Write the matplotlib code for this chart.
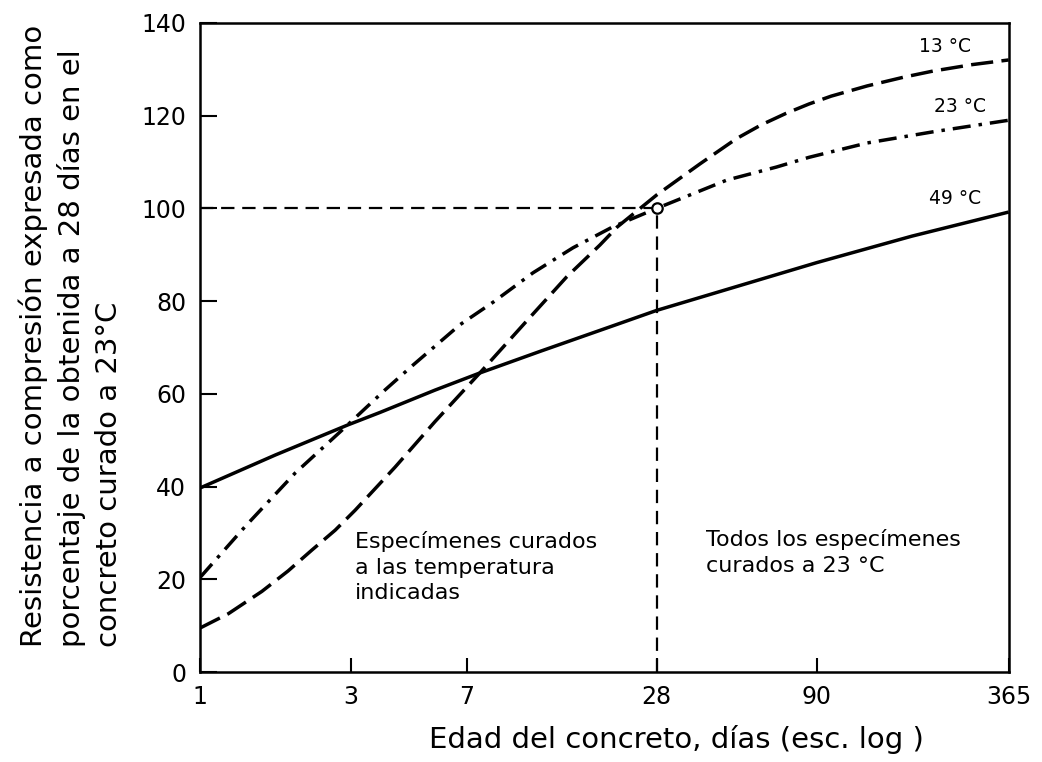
import matplotlib
matplotlib.use("Agg")
import matplotlib.pyplot as plt

# ---- data ----
x_ticks = [1, 3, 7, 28, 90, 365]
y_ticks = [0, 20, 40, 60, 80, 100, 120, 140]

x_13 = [1, 1.23, 1.57, 1.9, 2.26, 2.68, 3.1, 4.15, 5.55, 7.7, 10.9, 14.5, 18.5, 21,
        28, 38.4, 50, 60, 72, 85, 100, 130, 170, 210, 280, 365]
y_13 = [9.5, 12.6, 17.4, 21.8, 26.3, 30.6, 34.9, 44.2, 54.0, 64.5, 75.9, 85.2, 92.1, 96,
        102.9, 109.6, 115.0, 118.0, 120.5, 122.5, 124.2, 126.4, 128.3, 129.6, 131, 132]

x_23 = [1, 1.39, 2.0, 2.82, 3.85, 4.73, 6.66, 8.5, 11.35, 15.2, 20.3, 28, 46.7, 67, 85, 130, 210, 365]
y_23 = [20.4, 31.4, 42.9, 52.2, 60.8, 66.2, 74.9, 79.8, 86.1, 91.5, 96, 100, 106.1, 108.9, 111, 114.1, 116.5, 119]

x_49 = [1, 1.73, 2.94, 3.72, 5.55, 7.7, 12, 21.4, 28, 90, 180, 365]
y_49 = [39.7, 46.8, 53.3, 56.0, 60.8, 64.5, 69.2, 75.2, 78, 88.3, 94, 99.2]

ref_x = 28
ref_y = 100

labels_temp = ["13 °C", "23 °C", "49 °C"]
labels_pos = [(229, 134.8), (255, 121.9), (246, 102.2)]

# ---- figure ----
fig = plt.figure(figsize=(10.42, 7.62), dpi=100)
ax = fig.add_axes([0.192, 0.118, 0.776, 0.852])

lw = 2.5
ax.plot(x_13, y_13, color="black", lw=lw, dashes=(6.4, 2.4))
ax.plot(x_23, y_23, color="black", lw=lw, dashes=(5.2, 2.3, 1.0, 2.3))
ax.plot(x_49, y_49, color="black", lw=lw, solid_capstyle="butt")

# reference lines to the 28-day point
ax.plot([1, ref_x], [ref_y, ref_y], color="black", lw=1.6, dashes=(6, 3.5))
ax.plot([ref_x, ref_x], [0, ref_y], color="black", lw=1.6, dashes=(6, 3.5))
ax.plot([ref_x], [ref_y], marker="o", ms=7.5, mfc="white", mec="black", mew=1.6, zorder=5)

ax.set_xscale("log")
ax.set_xlim(1, 365)
ax.set_ylim(0, 140)
ax.set_xticks(x_ticks)
ax.set_xticklabels([str(t) for t in x_ticks])
ax.minorticks_off()
ax.set_yticks(y_ticks)
ax.tick_params(axis="both", direction="in", width=1.5, labelsize=17)
ax.tick_params(axis="y", length=12, pad=10)
ax.tick_params(axis="x", length=10, pad=9)
for s in ax.spines.values():
    s.set_linewidth(1.8)

for txt, (tx, ty) in zip(labels_temp, labels_pos):
    ax.text(tx, ty, txt, fontsize=13.5, ha="center", va="center")

ax.text(3.1, 30.4, "Especímenes curados\na las temperatura\nindicadas",
        fontsize=16, ha="left", va="top", linespacing=1.35)
ax.text(40.1, 30.8, "Todos los especímenes\ncurados a 23 °C",
        fontsize=16, ha="left", va="top", linespacing=1.35)

fig.text(676 / 1042, 1 - 740 / 762, "Edad del concreto, días (esc. log )",
         fontsize=21, ha="center", va="center")
fig.text(71 / 1042, 1 - 336 / 762,
         "Resistencia a compresión expresada como\nporcentaje de la obtenida a 28 días en el\nconcreto curado a 23°C",
         fontsize=21, rotation=90, ha="center", va="center",
         multialignment="left", linespacing=1.4)

fig.savefig("out.png", dpi=100)
